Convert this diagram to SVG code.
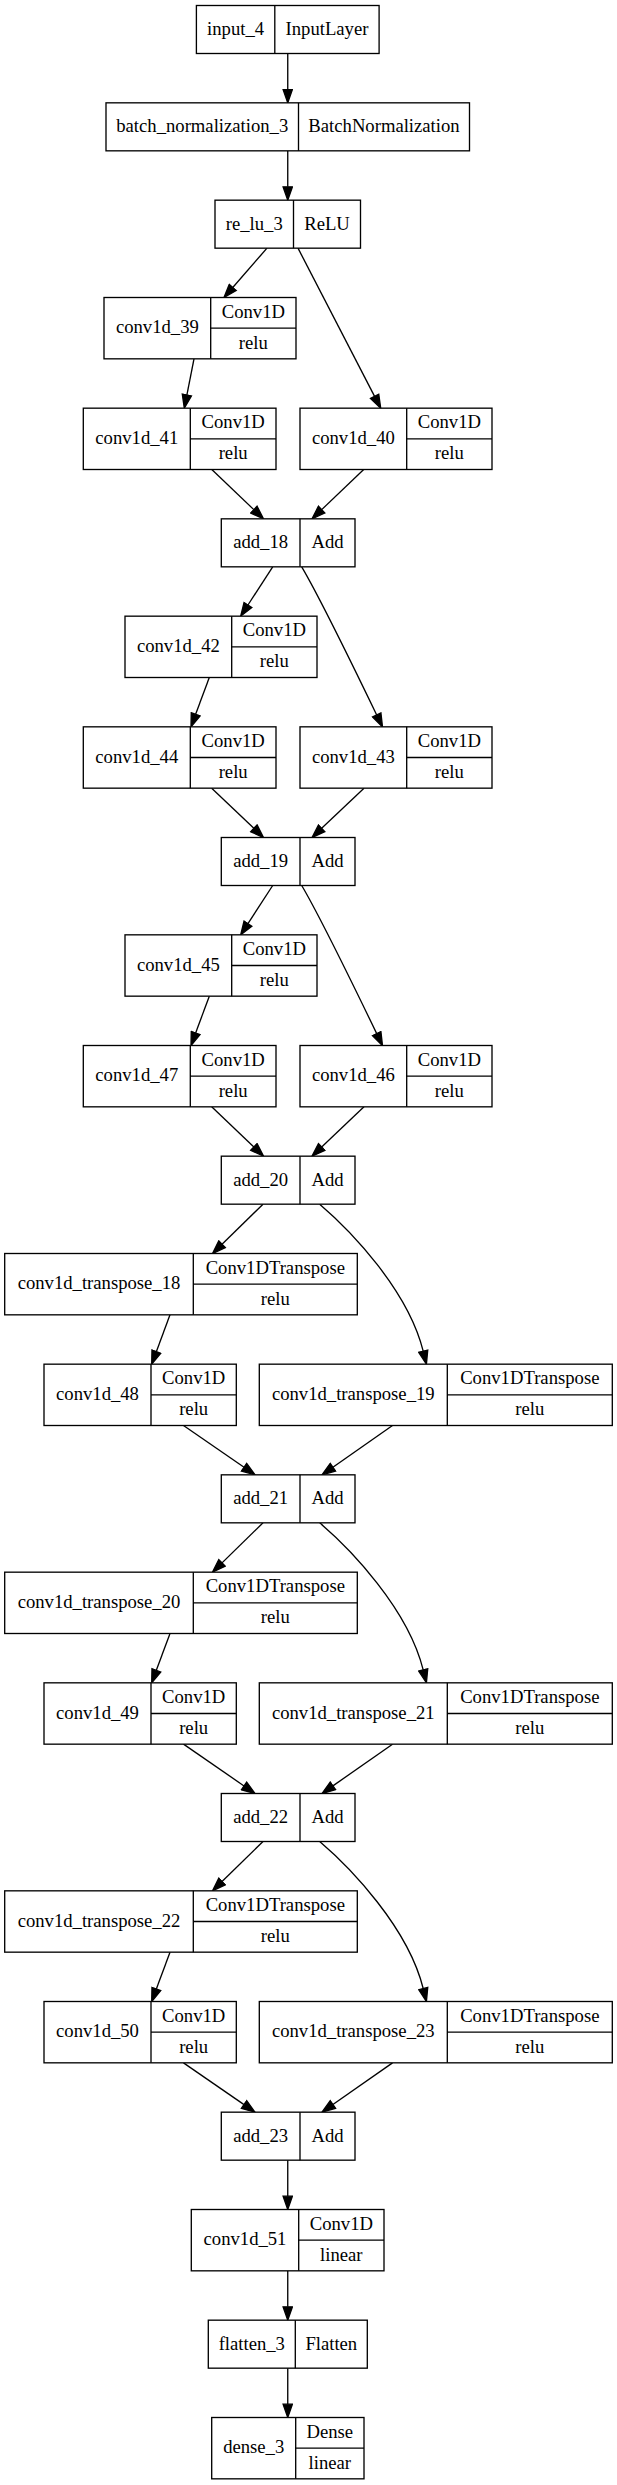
<svg xmlns="http://www.w3.org/2000/svg" width="617" height="2485" viewBox="0 0 617 2485">
<style>
.b{fill:#fff;stroke:#000;stroke-width:1.33}
.d{stroke:#000;stroke-width:1.33;fill:none}
text{font-family:"Liberation Serif","Times New Roman",serif;font-size:18.67px;text-anchor:middle;fill:#000}
.e{fill:none;stroke:#000;stroke-width:1.33;marker-end:url(#ah)}
</style>
<defs>
<marker id="ah" markerUnits="userSpaceOnUse" viewBox="-1 -1 15.33 11.33" markerWidth="15.33" markerHeight="11.33" refX="0" refY="4.67" orient="auto">
<path d="M0,0 L13.33,4.67 L0,9.33 z" fill="#000" stroke="#000" stroke-width="1.33"/>
</marker>
</defs>
<rect width="617" height="2485" fill="#fff"/>
<g id="edges">
<path class="e" d="M287.75,53.5 V89.5"/>
<path class="e" d="M287.75,150.83 V186.84"/>
<path class="e" d="M267,248.17 L232.76,287.45"/>
<path class="e" d="M298,248.17 L374.58,396.33"/>
<path class="e" d="M194,358.83 L186.87,395.09"/>
<path class="e" d="M211.8,469.5 L253.86,509.63"/>
<path class="e" d="M363.7,469.5 L321.64,509.63"/>
<path class="e" d="M272.7,566.83 L247.95,604.99"/>
<path class="e" d="M301.7,566.83 C316,591 356,672 376.7,714.93"/>
<path class="e" d="M209.3,677.5 L195.64,714.33"/>
<path class="e" d="M211.7,788.17 L253.86,828.3"/>
<path class="e" d="M364,788.17 L321.67,828.33"/>
<path class="e" d="M272.7,885.5 L247.95,923.66"/>
<path class="e" d="M301.7,885.5 C316,909.67 356,990.67 376.7,1033.6"/>
<path class="e" d="M209.3,996.17 L195.64,1033"/>
<path class="e" d="M211.7,1106.84 L253.86,1146.97"/>
<path class="e" d="M364,1106.84 L321.67,1147"/>
<path class="e" d="M263,1204.17 L222.04,1244.19"/>
<path class="e" d="M319.7,1204.17 C350,1230 408,1290 423.2,1351.2"/>
<path class="e" d="M170,1314.83 L156.34,1351.67"/>
<path class="e" d="M183.5,1425.5 L244.03,1467.26"/>
<path class="e" d="M392.5,1425.5 L332.92,1467.19"/>
<path class="e" d="M263,1522.84 L222.04,1562.86"/>
<path class="e" d="M319.7,1522.84 C350,1548.67 408,1608.67 423.2,1669.87"/>
<path class="e" d="M170,1633.5 L156.34,1670.34"/>
<path class="e" d="M183.5,1744.17 L244.03,1785.93"/>
<path class="e" d="M392.5,1744.17 L332.92,1785.86"/>
<path class="e" d="M263,1841.5 L222.04,1881.52"/>
<path class="e" d="M319.7,1841.5 C350,1867.33 408,1927.33 423.2,1988.53"/>
<path class="e" d="M170,1952.16 L156.34,1989"/>
<path class="e" d="M183.5,2062.83 L244.03,2104.59"/>
<path class="e" d="M392.5,2062.83 L332.92,2104.52"/>
<path class="e" d="M287.75,2160.17 V2196.17"/>
<path class="e" d="M287.75,2270.83 V2306.84"/>
<path class="e" d="M287.75,2368.17 V2404.17"/>
</g>
<g id="input_4" transform="translate(0,5.5)">
<rect class="b" x="196.4" y="0" width="182.7" height="48"/><line class="d" x1="274.8" y1="0" x2="274.8" y2="48"/>
<text x="235.6" y="29.6">input_4</text><text x="327" y="29.6">InputLayer</text>
</g>
<g id="batch_normalization_3" transform="translate(0,102.83)">
<rect class="b" x="106" y="0" width="363.5" height="48"/><line class="d" x1="298.5" y1="0" x2="298.5" y2="48"/>
<text x="202.25" y="29.6">batch_normalization_3</text><text x="384" y="29.6">BatchNormalization</text>
</g>
<g id="re_lu_3" transform="translate(0,200.17)">
<rect class="b" x="215" y="0" width="145.5" height="48"/><line class="d" x1="293.5" y1="0" x2="293.5" y2="48"/>
<text x="254.25" y="29.6">re_lu_3</text><text x="327" y="29.6">ReLU</text>
</g>
<g id="conv1d_39" transform="translate(0,297.5)">
<rect class="b" x="104" y="0" width="192" height="61.33"/><path class="d" d="M210.7,0 V61.33 M210.7,30.67 H296"/>
<text x="157.35" y="35.7">conv1d_39</text><text x="253.35" y="20.3">Conv1D</text><text x="253.35" y="51">relu</text>
</g>
<g id="conv1d_41" transform="translate(0,408.17)">
<rect class="b" x="83.3" y="0" width="192.7" height="61.33"/><path class="d" d="M190.3,0 V61.33 M190.3,30.67 H276"/>
<text x="136.8" y="35.7">conv1d_41</text><text x="233.15" y="20.3">Conv1D</text><text x="233.15" y="51">relu</text>
</g>
<g id="conv1d_40" transform="translate(0,408.17)">
<rect class="b" x="300" y="0" width="192" height="61.33"/><path class="d" d="M406.7,0 V61.33 M406.7,30.67 H492"/>
<text x="353.35" y="35.7">conv1d_40</text><text x="449.35" y="20.3">Conv1D</text><text x="449.35" y="51">relu</text>
</g>
<g id="add_18" transform="translate(0,518.83)">
<rect class="b" x="221.3" y="0" width="133.7" height="48"/><line class="d" x1="300" y1="0" x2="300" y2="48"/>
<text x="260.65" y="29.6">add_18</text><text x="327.5" y="29.6">Add</text>
</g>
<g id="conv1d_42" transform="translate(0,616.17)">
<rect class="b" x="125" y="0" width="192" height="61.33"/><path class="d" d="M231.7,0 V61.33 M231.7,30.67 H317"/>
<text x="178.35" y="35.7">conv1d_42</text><text x="274.35" y="20.3">Conv1D</text><text x="274.35" y="51">relu</text>
</g>
<g id="conv1d_44" transform="translate(0,726.83)">
<rect class="b" x="83.3" y="0" width="192.7" height="61.33"/><path class="d" d="M190.3,0 V61.33 M190.3,30.67 H276"/>
<text x="136.8" y="35.7">conv1d_44</text><text x="233.15" y="20.3">Conv1D</text><text x="233.15" y="51">relu</text>
</g>
<g id="conv1d_43" transform="translate(0,726.83)">
<rect class="b" x="300" y="0" width="192" height="61.33"/><path class="d" d="M406.7,0 V61.33 M406.7,30.67 H492"/>
<text x="353.35" y="35.7">conv1d_43</text><text x="449.35" y="20.3">Conv1D</text><text x="449.35" y="51">relu</text>
</g>
<g id="add_19" transform="translate(0,837.5)">
<rect class="b" x="221.3" y="0" width="133.7" height="48"/><line class="d" x1="300" y1="0" x2="300" y2="48"/>
<text x="260.65" y="29.6">add_19</text><text x="327.5" y="29.6">Add</text>
</g>
<g id="conv1d_45" transform="translate(0,934.83)">
<rect class="b" x="125" y="0" width="192" height="61.33"/><path class="d" d="M231.7,0 V61.33 M231.7,30.67 H317"/>
<text x="178.35" y="35.7">conv1d_45</text><text x="274.35" y="20.3">Conv1D</text><text x="274.35" y="51">relu</text>
</g>
<g id="conv1d_47" transform="translate(0,1045.5)">
<rect class="b" x="83.3" y="0" width="192.7" height="61.33"/><path class="d" d="M190.3,0 V61.33 M190.3,30.67 H276"/>
<text x="136.8" y="35.7">conv1d_47</text><text x="233.15" y="20.3">Conv1D</text><text x="233.15" y="51">relu</text>
</g>
<g id="conv1d_46" transform="translate(0,1045.5)">
<rect class="b" x="300" y="0" width="192" height="61.33"/><path class="d" d="M406.7,0 V61.33 M406.7,30.67 H492"/>
<text x="353.35" y="35.7">conv1d_46</text><text x="449.35" y="20.3">Conv1D</text><text x="449.35" y="51">relu</text>
</g>
<g id="add_20" transform="translate(0,1156.17)">
<rect class="b" x="221.3" y="0" width="133.7" height="48"/><line class="d" x1="300" y1="0" x2="300" y2="48"/>
<text x="260.65" y="29.6">add_20</text><text x="327.5" y="29.6">Add</text>
</g>
<g id="conv1d_transpose_18" transform="translate(0,1253.5)">
<rect class="b" x="4.7" y="0" width="352.6" height="61.33"/><path class="d" d="M193.3,0 V61.33 M193.3,30.67 H357.3"/>
<text x="99" y="35.7">conv1d_transpose_18</text><text x="275.3" y="20.3">Conv1DTranspose</text><text x="275.3" y="51">relu</text>
</g>
<g id="conv1d_48" transform="translate(0,1364.17)">
<rect class="b" x="44" y="0" width="192.3" height="61.33"/><path class="d" d="M151,0 V61.33 M151,30.67 H236.3"/>
<text x="97.5" y="35.7">conv1d_48</text><text x="193.65" y="20.3">Conv1D</text><text x="193.65" y="51">relu</text>
</g>
<g id="conv1d_transpose_19" transform="translate(0,1364.17)">
<rect class="b" x="259.3" y="0" width="353" height="61.33"/><path class="d" d="M447.3,0 V61.33 M447.3,30.67 H612.3"/>
<text x="353.3" y="35.7">conv1d_transpose_19</text><text x="529.8" y="20.3">Conv1DTranspose</text><text x="529.8" y="51">relu</text>
</g>
<g id="add_21" transform="translate(0,1474.83)">
<rect class="b" x="221.3" y="0" width="133.7" height="48"/><line class="d" x1="300" y1="0" x2="300" y2="48"/>
<text x="260.65" y="29.6">add_21</text><text x="327.5" y="29.6">Add</text>
</g>
<g id="conv1d_transpose_20" transform="translate(0,1572.17)">
<rect class="b" x="4.7" y="0" width="352.6" height="61.33"/><path class="d" d="M193.3,0 V61.33 M193.3,30.67 H357.3"/>
<text x="99" y="35.7">conv1d_transpose_20</text><text x="275.3" y="20.3">Conv1DTranspose</text><text x="275.3" y="51">relu</text>
</g>
<g id="conv1d_49" transform="translate(0,1682.83)">
<rect class="b" x="44" y="0" width="192.3" height="61.33"/><path class="d" d="M151,0 V61.33 M151,30.67 H236.3"/>
<text x="97.5" y="35.7">conv1d_49</text><text x="193.65" y="20.3">Conv1D</text><text x="193.65" y="51">relu</text>
</g>
<g id="conv1d_transpose_21" transform="translate(0,1682.83)">
<rect class="b" x="259.3" y="0" width="353" height="61.33"/><path class="d" d="M447.3,0 V61.33 M447.3,30.67 H612.3"/>
<text x="353.3" y="35.7">conv1d_transpose_21</text><text x="529.8" y="20.3">Conv1DTranspose</text><text x="529.8" y="51">relu</text>
</g>
<g id="add_22" transform="translate(0,1793.5)">
<rect class="b" x="221.3" y="0" width="133.7" height="48"/><line class="d" x1="300" y1="0" x2="300" y2="48"/>
<text x="260.65" y="29.6">add_22</text><text x="327.5" y="29.6">Add</text>
</g>
<g id="conv1d_transpose_22" transform="translate(0,1890.83)">
<rect class="b" x="4.7" y="0" width="352.6" height="61.33"/><path class="d" d="M193.3,0 V61.33 M193.3,30.67 H357.3"/>
<text x="99" y="35.7">conv1d_transpose_22</text><text x="275.3" y="20.3">Conv1DTranspose</text><text x="275.3" y="51">relu</text>
</g>
<g id="conv1d_50" transform="translate(0,2001.5)">
<rect class="b" x="44" y="0" width="192.3" height="61.33"/><path class="d" d="M151,0 V61.33 M151,30.67 H236.3"/>
<text x="97.5" y="35.7">conv1d_50</text><text x="193.65" y="20.3">Conv1D</text><text x="193.65" y="51">relu</text>
</g>
<g id="conv1d_transpose_23" transform="translate(0,2001.5)">
<rect class="b" x="259.3" y="0" width="353" height="61.33"/><path class="d" d="M447.3,0 V61.33 M447.3,30.67 H612.3"/>
<text x="353.3" y="35.7">conv1d_transpose_23</text><text x="529.8" y="20.3">Conv1DTranspose</text><text x="529.8" y="51">relu</text>
</g>
<g id="add_23" transform="translate(0,2112.17)">
<rect class="b" x="221.3" y="0" width="133.7" height="48"/><line class="d" x1="300" y1="0" x2="300" y2="48"/>
<text x="260.65" y="29.6">add_23</text><text x="327.5" y="29.6">Add</text>
</g>
<g id="conv1d_51" transform="translate(0,2209.5)">
<rect class="b" x="191.3" y="0" width="192.7" height="61.33"/><path class="d" d="M298.7,0 V61.33 M298.7,30.67 H384"/>
<text x="245" y="35.7">conv1d_51</text><text x="341.35" y="20.3">Conv1D</text><text x="341.35" y="51">linear</text>
</g>
<g id="flatten_3" transform="translate(0,2320.17)">
<rect class="b" x="208.3" y="0" width="159" height="48"/><line class="d" x1="295.3" y1="0" x2="295.3" y2="48"/>
<text x="251.8" y="29.6">flatten_3</text><text x="331.3" y="29.6">Flatten</text>
</g>
<g id="dense_3" transform="translate(0,2417.5)">
<rect class="b" x="211.7" y="0" width="152.3" height="61.33"/><path class="d" d="M295.7,0 V61.33 M295.7,30.67 H364"/>
<text x="253.7" y="35.7">dense_3</text><text x="329.85" y="20.3">Dense</text><text x="329.85" y="51">linear</text>
</g>
</svg>
